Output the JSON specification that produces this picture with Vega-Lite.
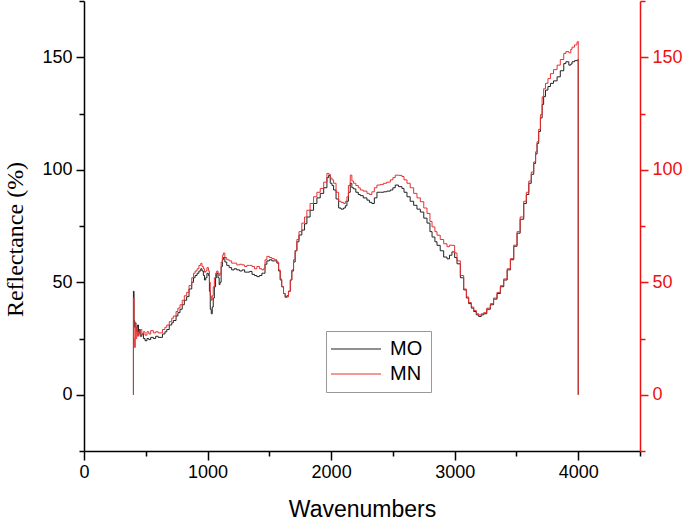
{
"$schema":"https://vega.github.io/schema/vega-lite/v6.json",
"width":556,"height":450,
"autosize":{"type":"none"},
"padding":{"left":84,"top":1,"right":45,"bottom":69},
"config":{"view":{"stroke":null},"axis":{"grid":false,"labelFont":"Liberation Sans","titleFont":"Liberation Sans","labelFontSize":18,"domainColor":"#000","tickColor":"#000","labelColor":"#000","titleColor":"#000","domainWidth":1.5,"tickWidth":1.5,"titleFontWeight":"normal","labelOverlap":false,"labelFlush":false}},
"data":{"values":[
{"w":400,"MO":0,"MN":0},{"w":400,"MO":46,"MN":43},{"w":405,"MO":33,"MN":25},{"w":410,"MO":30,"MN":21},{"w":415,"MO":32,"MN":32},{"w":420,"MO":30,"MN":25},{"w":427,"MO":28,"MN":30},{"w":434,"MO":31,"MN":26},{"w":441,"MO":27,"MN":28},{"w":448,"MO":29,"MN":27},{"w":455,"MO":26,"MN":29},{"w":468,"MO":27,"MN":27},{"w":481,"MO":25,"MN":28},{"w":494,"MO":24,"MN":26.5},{"w":510,"MO":25,"MN":28},{"w":525,"MO":24.5,"MN":27},{"w":540,"MO":25.5,"MN":28.5},{"w":561,"MO":25,"MN":27.5},{"w":580,"MO":26,"MN":28},{"w":600,"MO":25.5,"MN":27.5},{"w":615,"MO":25.5,"MN":27.5},{"w":635,"MO":27,"MN":29},{"w":655,"MO":28,"MN":30},{"w":670,"MO":29,"MN":31},{"w":690,"MO":31,"MN":32.5},{"w":710,"MO":32,"MN":34},{"w":723,"MO":33,"MN":35},{"w":745,"MO":35,"MN":37},{"w":760,"MO":36.5,"MN":38.5},{"w":777,"MO":38,"MN":40},{"w":795,"MO":40,"MN":42},{"w":812,"MO":42,"MN":44},{"w":831,"MO":43.6,"MN":45.5},{"w":850,"MO":47,"MN":48.5},{"w":872,"MO":50,"MN":52},{"w":886,"MO":52,"MN":54},{"w":899,"MO":53,"MN":55},{"w":915,"MO":54,"MN":56},{"w":930,"MO":55,"MN":57.5},{"w":945,"MO":56,"MN":58.4},{"w":955,"MO":55,"MN":57},{"w":966,"MO":53,"MN":56},{"w":975,"MO":51,"MN":54.5},{"w":985,"MO":52,"MN":55},{"w":995,"MO":54,"MN":56.5},{"w":1007,"MO":53,"MN":55},{"w":1015,"MO":46,"MN":50},{"w":1022,"MO":38,"MN":44},{"w":1030,"MO":36,"MN":42},{"w":1038,"MO":39,"MN":44},{"w":1046,"MO":43,"MN":48},{"w":1055,"MO":48,"MN":52},{"w":1065,"MO":52,"MN":54},{"w":1074,"MO":54,"MN":55},{"w":1085,"MO":52,"MN":54},{"w":1094,"MO":49,"MN":53},{"w":1101,"MO":50,"MN":54},{"w":1110,"MO":57,"MN":59},{"w":1120,"MO":60,"MN":62},{"w":1128,"MO":61,"MN":63},{"w":1140,"MO":59,"MN":61},{"w":1155,"MO":57.5,"MN":60},{"w":1175,"MO":56.5,"MN":59.5},{"w":1195,"MO":55.5,"MN":58.5},{"w":1215,"MO":56,"MN":58.5},{"w":1236,"MO":55.5,"MN":57.7},{"w":1260,"MO":55,"MN":58},{"w":1280,"MO":55.5,"MN":57.7},{"w":1300,"MO":54.5,"MN":57},{"w":1318,"MO":54.5,"MN":57.5},{"w":1340,"MO":54.8,"MN":57.5},{"w":1360,"MO":53.5,"MN":57},{"w":1380,"MO":53,"MN":56},{"w":1399,"MO":52.5,"MN":57},{"w":1420,"MO":53,"MN":56},{"w":1440,"MO":54,"MN":55.5},{"w":1453,"MO":54,"MN":56},{"w":1465,"MO":58,"MN":60},{"w":1480,"MO":59.5,"MN":61.5},{"w":1500,"MO":60,"MN":61},{"w":1520,"MO":59.5,"MN":60.5},{"w":1540,"MO":59.5,"MN":60},{"w":1561,"MO":58.5,"MN":59},{"w":1575,"MO":55,"MN":55.5},{"w":1588,"MO":51,"MN":51.5},{"w":1600,"MO":48,"MN":48},{"w":1615,"MO":45,"MN":45},{"w":1628,"MO":43.5,"MN":43.2},{"w":1642,"MO":44,"MN":43.5},{"w":1655,"MO":46,"MN":46},{"w":1670,"MO":51,"MN":51},{"w":1682,"MO":55,"MN":55.5},{"w":1696,"MO":59,"MN":60},{"w":1709,"MO":64,"MN":64},{"w":1723,"MO":68,"MN":69},{"w":1740,"MO":71,"MN":72.5},{"w":1763,"MO":73.2,"MN":76.3},{"w":1785,"MO":76,"MN":79},{"w":1804,"MO":79,"MN":82},{"w":1830,"MO":82,"MN":85},{"w":1858,"MO":85,"MN":88},{"w":1885,"MO":87.5,"MN":90},{"w":1912,"MO":89.5,"MN":91.7},{"w":1940,"MO":92,"MN":94.5},{"w":1966,"MO":96.5,"MN":98.4},{"w":1980,"MO":97.5,"MN":98},{"w":1993,"MO":94,"MN":96.3},{"w":2007,"MO":93,"MN":95.5},{"w":2020,"MO":91,"MN":94},{"w":2040,"MO":87,"MN":90},{"w":2061,"MO":83,"MN":86},{"w":2080,"MO":82.5,"MN":85.5},{"w":2101,"MO":83,"MN":85},{"w":2115,"MO":84,"MN":86},{"w":2128,"MO":86,"MN":88},{"w":2140,"MO":90,"MN":93},{"w":2155,"MO":94,"MN":97.6},{"w":2168,"MO":92,"MN":95},{"w":2182,"MO":91.5,"MN":94},{"w":2200,"MO":90,"MN":93},{"w":2220,"MO":89,"MN":92},{"w":2236,"MO":88.5,"MN":91},{"w":2260,"MO":87.5,"MN":90.5},{"w":2290,"MO":86.5,"MN":89.5},{"w":2310,"MO":85.5,"MN":89},{"w":2330,"MO":85,"MN":90.2},{"w":2350,"MO":87.5,"MN":92},{"w":2371,"MO":90,"MN":93.2},{"w":2400,"MO":90,"MN":93.5},{"w":2425,"MO":90.2,"MN":94},{"w":2450,"MO":90.5,"MN":94.5},{"w":2479,"MO":91,"MN":95.5},{"w":2500,"MO":92,"MN":96.5},{"w":2519,"MO":93.2,"MN":97.6},{"w":2545,"MO":92.5,"MN":97.5},{"w":2573,"MO":91.7,"MN":97},{"w":2590,"MO":90,"MN":95.5},{"w":2614,"MO":88,"MN":94},{"w":2640,"MO":86,"MN":92},{"w":2668,"MO":84.2,"MN":89.5},{"w":2695,"MO":82.5,"MN":87.5},{"w":2722,"MO":81.2,"MN":85.8},{"w":2750,"MO":78.5,"MN":83},{"w":2776,"MO":76.3,"MN":80.6},{"w":2800,"MO":72.5,"MN":77},{"w":2817,"MO":70.1,"MN":74.6},{"w":2840,"MO":68,"MN":72.5},{"w":2857,"MO":66.4,"MN":70.9},{"w":2883,"MO":64,"MN":69},{"w":2911,"MO":61.2,"MN":67.1},{"w":2938,"MO":60.4,"MN":65.8},{"w":2958,"MO":62,"MN":66.5},{"w":2978,"MO":63.5,"MN":66.4},{"w":3000,"MO":61,"MN":63},{"w":3019,"MO":58.2,"MN":59.5},{"w":3046,"MO":52,"MN":53},{"w":3073,"MO":46.6,"MN":47},{"w":3095,"MO":43,"MN":43.5},{"w":3113,"MO":40.5,"MN":41},{"w":3135,"MO":38.5,"MN":39},{"w":3154,"MO":37,"MN":37.5},{"w":3175,"MO":35.5,"MN":36},{"w":3194,"MO":34.8,"MN":35.5},{"w":3215,"MO":35.5,"MN":36},{"w":3235,"MO":36,"MN":36.5},{"w":3260,"MO":38,"MN":38.5},{"w":3289,"MO":40,"MN":40.5},{"w":3315,"MO":42.5,"MN":43},{"w":3343,"MO":45,"MN":45.5},{"w":3370,"MO":48,"MN":48.5},{"w":3397,"MO":51,"MN":51.5},{"w":3425,"MO":55.5,"MN":56},{"w":3451,"MO":60,"MN":60.5},{"w":3478,"MO":66,"MN":66.5},{"w":3505,"MO":71.8,"MN":72.5},{"w":3530,"MO":78,"MN":79},{"w":3559,"MO":85,"MN":86},{"w":3580,"MO":89,"MN":90},{"w":3600,"MO":94,"MN":95},{"w":3620,"MO":98,"MN":99},{"w":3640,"MO":102.8,"MN":103.5},{"w":3655,"MO":107,"MN":108},{"w":3667,"MO":111.7,"MN":112.5},{"w":3680,"MO":117,"MN":118},{"w":3694,"MO":123,"MN":124.5},{"w":3708,"MO":129,"MN":132.4},{"w":3720,"MO":132.5,"MN":136},{"w":3735,"MO":135.4,"MN":138.4},{"w":3755,"MO":137,"MN":140.5},{"w":3775,"MO":138.4,"MN":142.7},{"w":3800,"MO":139.5,"MN":144.5},{"w":3829,"MO":141.3,"MN":146.5},{"w":3855,"MO":144,"MN":149},{"w":3883,"MO":147.2,"MN":151.7},{"w":3900,"MO":148,"MN":152.5},{"w":3924,"MO":146.5,"MN":152},{"w":3940,"MO":147,"MN":153.5},{"w":3950,"MO":148,"MN":154.5},{"w":3970,"MO":148.5,"MN":155.5},{"w":3990,"MO":148.7,"MN":156.8},{"w":4000,"MO":149,"MN":157},{"w":4000,"MO":0,"MN":0}
]},
"encoding":{
"x":{"field":"w","type":"quantitative","scale":{"domain":[0,4500],"nice":false,"zero":false},
"axis":{"title":"Wavenumbers","format":"d","values":[0,500,1000,1500,2000,2500,3000,3500,4000,4500],
"labelExpr":"datum.value % 1000 === 0 ? datum.label : ''",
"tickSize":{"condition":{"test":"datum.value % 1000 === 0","value":9},"value":5},
"labelPadding":3,"titleFontSize":23,"titleY":65,"titleBaseline":"alphabetic"}}
},
"layer":[
{"mark":{"type":"line","interpolate":"step-after","strokeWidth":1,"clip":true},
"encoding":{
"y":{"field":"MO","type":"quantitative","scale":{"domain":[-25,175],"nice":false,"zero":false},
"axis":{"title":"Reflectance (%)","values":[-25,0,25,50,75,100,125,150,175],"format":"d",
"labelExpr":"datum.value >= 0 && datum.value % 50 === 0 ? datum.label : ''",
"tickSize":{"condition":{"test":"datum.value % 50 === 0 && datum.value >= 0","value":8},"value":5},
"labelPadding":4,"titleFont":"Liberation Serif","titleFontSize":24,"titleX":-69,"titleY":238,"titleAngle":-90,"titleAlign":"center","titleBaseline":"middle"}},
"color":{"datum":"MO","type":"nominal","scale":{"domain":["MO","MN"],"range":["#222222","#e83030"]},
"legend":{"orient":"none","legendX":242,"legendY":330,"title":null,"strokeColor":"#999999","padding":8,"symbolType":"M-5,0H5","symbolSize":100,"symbolOffset":12,"symbolStrokeWidth":1.2,"labelFontSize":20,"labelFont":"Liberation Sans","labelOffset":24,"rowPadding":5,"labelColor":"#000000"}}
}},
{"mark":{"type":"line","interpolate":"step-after","strokeWidth":1,"clip":true},
"encoding":{
"y":{"field":"MN","type":"quantitative","scale":{"domain":[-25,175],"nice":false,"zero":false},
"axis":{"title":null,"orient":"right","values":[-25,0,25,50,75,100,125,150,175],"format":"d",
"labelExpr":"datum.value >= 0 && datum.value % 50 === 0 ? datum.label : ''",
"tickSize":{"condition":{"test":"datum.value % 50 === 0 && datum.value >= 0","value":8},"value":5},
"labelPadding":4,"domainColor":"#ee1111","tickColor":"#ee1111","labelColor":"#ee1111"}},
"color":{"datum":"MN","type":"nominal"}
}}
],
"resolve":{"scale":{"y":"independent"}}
}
